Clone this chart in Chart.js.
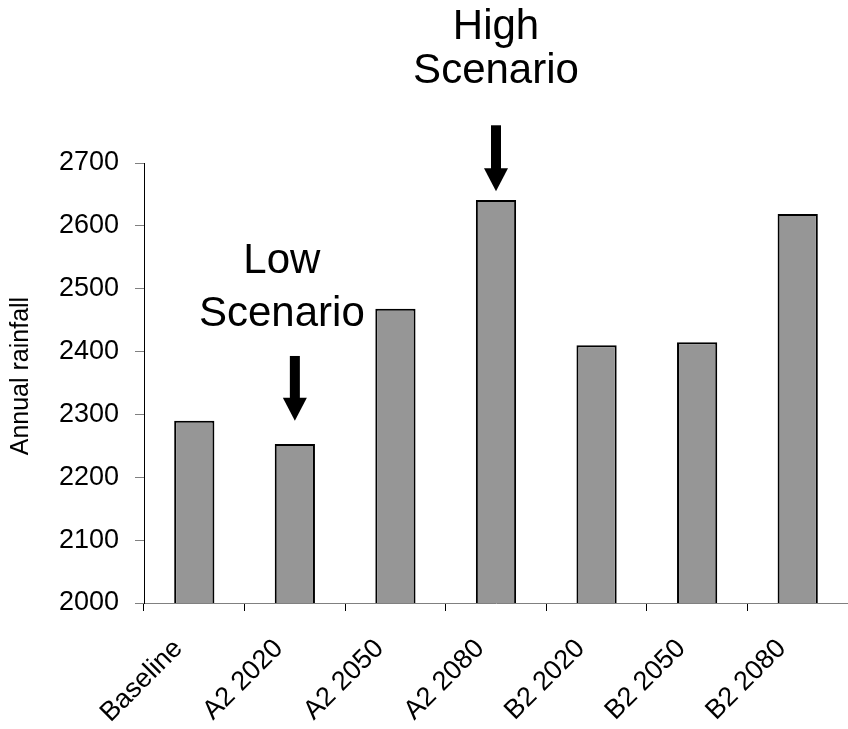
<!DOCTYPE html>
<html>
<head>
<meta charset="utf-8">
<script src="https://cdn.jsdelivr.net/npm/chart.js@4"></script>
<style>
  html, body { margin: 0; padding: 0; background: #fff; }
  #box { width: 848px; height: 729px; }
</style>
</head>
<body>
<div id="box"><canvas id="chart"></canvas></div>
<script>
const categories = [
  'Baseline',
  'A2 2020',
  'A2 2050',
  'A2 2080',
  'B2 2020',
  'B2 2050',
  'B2 2080',
]
const rainfall = [2290, 2253, 2468, 2641, 2410, 2415, 2619]

// scenario notes: bar index, text lines, line values, arrow top / tip values
const noteIndex = [1, 3]
const noteLines = [['Low', 'Scenario'], ['High', 'Scenario']]
const noteLineValues = [[2543, 2459], [2916, 2845]]
const arrowTop = [2393, 2760]
const arrowTip = [2290, 2655]
const noteShift = [-13, 0]

const fontFamily = '"Liberation Sans", Arial, sans-serif'

const notesPlugin = {
  id: 'notes',
  afterDraw (chart) {
    const ctx = chart.ctx
    const x = chart.scales.x
    const y = chart.scales.y
    ctx.save()
    ctx.fillStyle = '#000'
    ctx.font = '42px ' + fontFamily
    ctx.textAlign = 'center'
    ctx.textBaseline = 'middle'
    for (let i = 0; i < noteIndex.length; i++) {
      const cx = x.getPixelForValue(noteIndex[i])
      for (let j = 0; j < noteLines[i].length; j++) {
        ctx.fillText(noteLines[i][j], cx + noteShift[i], y.getPixelForValue(noteLineValues[i][j]))
      }
      const top = y.getPixelForValue(arrowTop[i])
      const tip = y.getPixelForValue(arrowTip[i])
      const headH = 23
      ctx.fillRect(cx - 5, top, 10, tip - headH - top + 1)
      ctx.beginPath()
      ctx.moveTo(cx - 12, tip - headH)
      ctx.lineTo(cx + 12, tip - headH)
      ctx.lineTo(cx, tip)
      ctx.closePath()
      ctx.fill()
    }
    ctx.restore()
  },
}

const config = {
  type: 'bar',
  data: {
    labels: categories,
    datasets: [{
      data: rainfall,
      backgroundColor: '#969696',
      borderColor: '#000',
      borderWidth: 2,
      borderSkipped: false,
      barPercentage: 0.4,
      categoryPercentage: 1,
    }],
  },
  options: {
    responsive: false,
    animation: false,
    layout: {
      padding: { top: 163, right: 0, left: 0, bottom: 0 },
    },
    plugins: {
      legend: { display: false },
      tooltip: { enabled: false },
    },
    scales: {
      x: {
        grid: {
          display: true,
          offset: true,
          drawOnChartArea: false,
          drawTicks: true,
          tickLength: 8,
          color: '#000',
        },
        border: { display: true, color: '#808080', width: 1 },
        ticks: {
          color: '#000',
          font: { family: fontFamily, size: 27 },
          minRotation: 45,
          maxRotation: 45,
          padding: 6,
          // trailing spaces nudge the rotated label down-left
          callback: function (value) { return this.getLabelForValue(value) + '   ' },
        },
        afterFit (scale) { scale.height = 126 },
      },
      y: {
        min: 2000,
        max: 2700,
        grid: {
          display: true,
          drawOnChartArea: false,
          drawTicks: true,
          tickLength: 9,
          color: '#808080',
        },
        border: { display: true, color: '#000', width: 1 },
        ticks: {
          stepSize: 100,
          color: '#000',
          font: { family: fontFamily, size: 27 },
          padding: 16,
          callback: (value) => String(value),
        },
        title: {
          display: true,
          text: '  Annual rainfall',
          color: '#000',
          font: { family: fontFamily, size: 25 },
          padding: { top: 6, bottom: 0 },
        },
        afterFit (scale) { scale.width = 144 },
      },
    },
  },
  plugins: [notesPlugin],
}

const canvas = document.getElementById('chart')
canvas.width = 848
canvas.height = 729
const myChart = new Chart(canvas.getContext('2d'), config)
</script>
</body>
</html>
